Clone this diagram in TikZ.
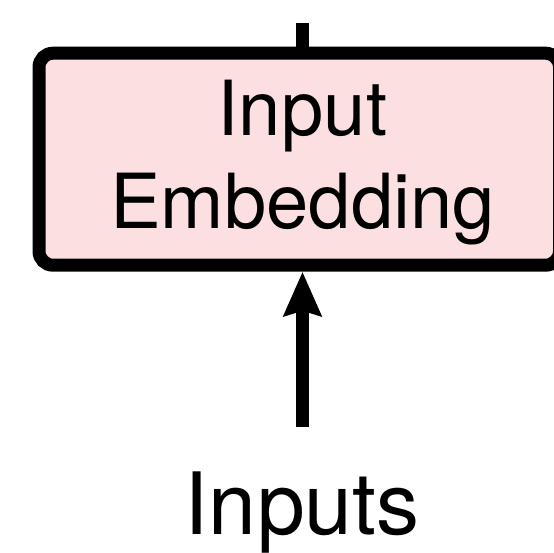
\documentclass[tikz,border=0pt]{standalone}
\usepackage{fontspec}
\setmainfont{TeX Gyre Heros}
\usetikzlibrary{arrows.meta,calc}
\definecolor{embedpink}{RGB}{252,224,225}
\tikzset{
  block/.style={draw=black, fill=embedpink, line width=13pt, rounded corners=14pt,
    minimum width=520.5pt, minimum height=212pt, inner sep=0pt},
  boxtext/.style={anchor=base, inner sep=0pt, font=\fontsize{76}{90}\selectfont},
  labeltext/.style={anchor=base, inner sep=0pt, font=\fontsize{86}{100}\selectfont},
  flow/.style={line width=13pt, line cap=butt},
  flowarrow/.style={flow, -{Stealth[length=44pt, width=37pt, inset=5pt]}}
}
\begin{document}
\begin{tikzpicture}[x=1pt,y=1pt]
  \useasboundingbox (0,0) rectangle (554,552);
  % embedding block (its right side runs past the frame)
  \node[block] (embed) at (299.25,392.8) {};
  \node[boxtext] (line1) at (302.5,416) {Input};
  \node[boxtext] (line2) at (302.5,323) {Embedding};
  % connector leaving the block upward
  \coordinate (up) at (302.5,529);
  \draw[flow] (embed.north -| up) -- (up);
  % input label and the arrow into the block
  \node[labeltext] (inputs) at (302.3,18) {Inputs};
  \coordinate (src) at (302.5,125.3);
  \draw[flowarrow] (src) -- (embed.south -| src);
\end{tikzpicture}
\end{document}
